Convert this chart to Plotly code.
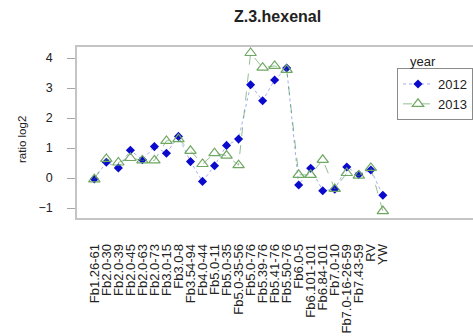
import plotly.graph_objects as go

# Sample labels and log2 ratios for Z-3-hexenal per year
samples = ["Fb1.26-61", "Fb2.0-30", "Fb2.0-39", "Fb2.0-45", "Fb2.0-63", "Fb2.0-73",
           "Fb3.0-15", "Fb3.0-8", "Fb3.54-94", "Fb4.0-44", "Fb5.0-11", "Fb5.0-35",
           "Fb5.0-35-56", "Fb5.0-76", "Fb5.39-76", "Fb5.41-76", "Fb5.50-76", "Fb6.0-5",
           "Fb6.101-101", "Fb6.84-101", "Fb7.0-10", "Fb7.0-16-26-59", "Fb7.43-59",
           "RV", "YW"]
ratio_2012 = [-0.03, 0.53, 0.34, 0.93, 0.61, 1.05, 0.83, 1.39, 0.55, -0.11, 0.41, 1.09,
              1.30, 3.11, 2.58, 3.27, 3.67, -0.23, 0.33, -0.42, -0.37, 0.37, 0.12,
              0.27, -0.57]
ratio_2013 = [-0.04, 0.64, 0.52, 0.67, 0.59, 0.59, 1.24, 1.30, 0.91, 0.47, 0.83, 0.75,
              0.43, 4.17, 3.68, 3.74, 3.61, 0.11, 0.11, 0.61, -0.36, 0.17, 0.08,
              0.34, -1.10]
y_ticks = [-1, 0, 1, 2, 3, 4]

W, H = 473, 336
L, T, B, R = 77, 47, 118, 0
PW, PH = W - L - R, H - T - B


def px(x):
    return (x - L) / PW


def py(y):
    return (H - B - y) / PH


fig = go.Figure()
fig.add_trace(go.Scatter(
    x=samples, y=ratio_2012, name="2012", mode="lines+markers",
    line=dict(color="rgba(90,110,225,0.7)", width=0.8, dash="dot"),
    marker=dict(symbol="diamond", size=7, color="#0a0acd", line=dict(width=0)),
))
fig.add_trace(go.Scatter(
    x=samples, y=ratio_2013, name="2013", mode="lines+markers",
    line=dict(color="rgba(70,150,70,0.75)", width=0.8, dash="dash"),
    marker=dict(symbol="triangle-up-open", size=10, color="#6fa862",
                line=dict(width=1.2)),
))

font_family = "Liberation Sans, Arial, sans-serif"
fig.update_layout(
    width=W, height=H,
    margin=dict(l=L, r=R, t=T, b=B, autoexpand=False),
    paper_bgcolor="white", plot_bgcolor="white",
    font=dict(family=font_family, color="#222222"),
    showlegend=True,
    legend=dict(x=px(397), y=py(68), xanchor="left", yanchor="top",
                bgcolor="white", bordercolor="#8a8a8a", borderwidth=1,
                font=dict(size=13, color="#222222"), tracegroupgap=0),
    xaxis=dict(
        type="category", range=[-1.44, 31.5],
        tickmode="array", tickvals=samples, ticktext=samples,
        showgrid=False, zeroline=False,
        showline=True, linecolor="#c4c4c4", linewidth=1.5, mirror=True,
        ticks="outside", ticklen=19, tickcolor="rgba(0,0,0,0)",
        tickangle=-90, tickfont=dict(size=13, color="#222222"),
    ),
    yaxis=dict(
        range=[-1.33, 4.37], tickvals=y_ticks,
        showgrid=False, zeroline=False,
        showline=True, linecolor="#c4c4c4", linewidth=1.5,
        ticks="outside", ticklen=8, tickcolor="#a8a8a8", tickwidth=1,
        ticklabelstandoff=12,
        tickfont=dict(size=12.5, color="#222222"),
    ),
    annotations=[
        dict(text="<b>Z.3.hexenal</b>", x=px(277), y=py(17), xref="paper", yref="paper",
             xanchor="center", yanchor="middle", showarrow=False,
             font=dict(size=16, color="#222222")),
        dict(text="ratio log2", x=px(22), y=py(140), xref="paper", yref="paper",
             xanchor="center", yanchor="middle", showarrow=False, textangle=-90,
             font=dict(size=11.5, color="#222222")),
        dict(text="year", x=px(408), y=py(61), xref="paper", yref="paper",
             xanchor="left", yanchor="middle", showarrow=False,
             font=dict(size=13, color="#222222")),
    ],
)

fig.write_html("out.html")
